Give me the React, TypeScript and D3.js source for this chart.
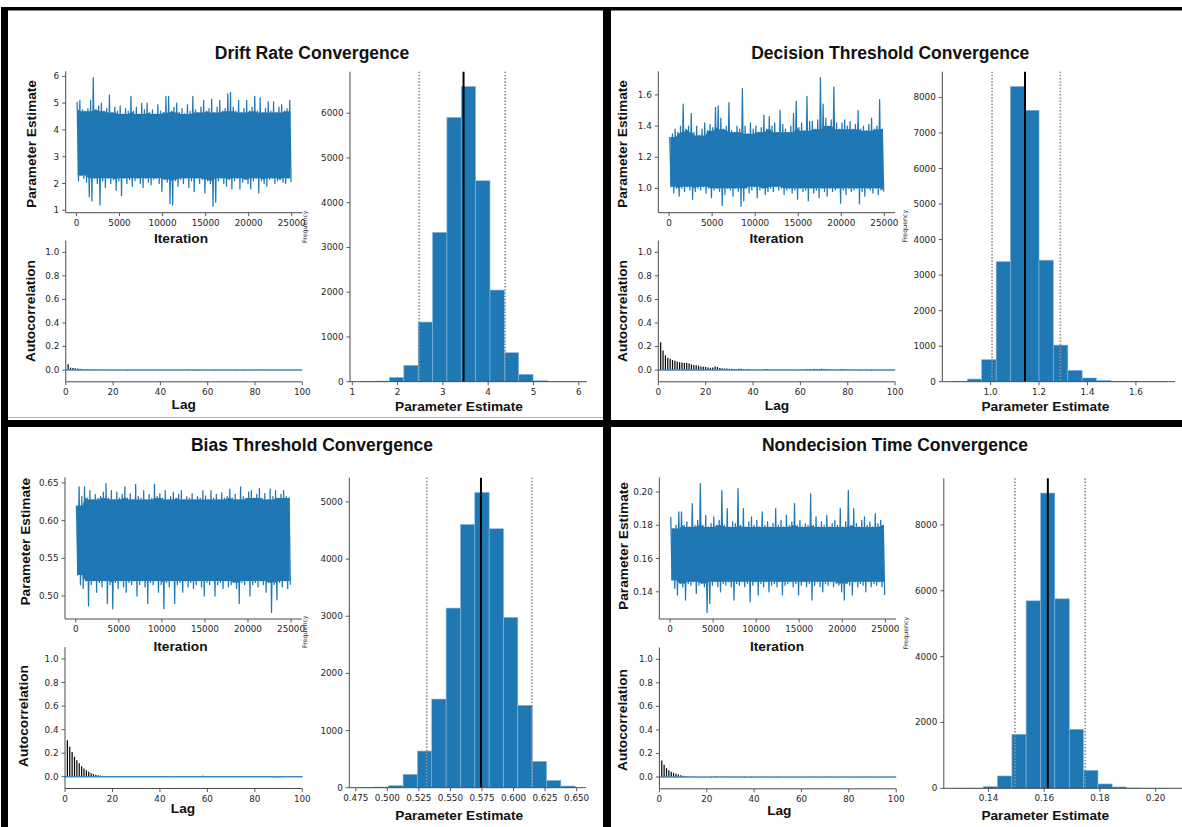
import React from "react";
import * as d3 from "d3";

// ---------- shared tick labels ----------
const iterationTicks = [0, 5000, 10000, 15000, 20000, 25000];
const lagTicks = [0, 20, 40, 60, 80, 100];
const acfTicks = [0, 0.2, 0.4, 0.6, 0.8, 1.0];
const totalIterations = 25000;
const maxLag = 100;

const titles = [
  "Drift Rate Convergence",
  "Decision Threshold Convergence",
  "Bias Threshold Convergence",
  "Nondecision Time Convergence",
];

// ---------- Drift rate ----------
const driftTraceHi = [
  5.05, 5.1, 4.75, 4.7, 4.8, 5.1, 5.95, 4.75, 4.9, 5.0,
  4.7, 4.8, 5.3, 4.65, 4.85, 4.7, 4.9, 4.6, 4.8, 4.7,
  5.25, 4.7, 4.85, 4.6, 5.0, 4.75, 5.0, 4.65, 4.75, 4.6,
  4.95, 4.7, 4.65, 5.25, 5.25, 4.7, 4.85, 5.0, 4.65, 4.8,
  4.6, 4.95, 4.7, 5.25, 4.75, 4.65, 4.85, 5.1, 4.7, 4.8,
  5.15, 4.65, 4.85, 5.1, 4.7, 4.8, 5.35, 5.4, 4.85, 4.7,
  5.1, 4.65, 4.8, 5.1, 4.7, 4.85, 5.25, 4.7, 5.2, 4.65,
  4.8, 5.05, 4.7, 5.05, 4.65, 4.85, 4.95, 4.7, 4.8, 5.1,
];
const driftTraceLo = [
  2.1, 2.3, 2.2, 2.05, 1.5, 1.35, 2.2, 2.0, 1.2, 2.1,
  1.85, 2.2, 2.0, 2.15, 1.75, 2.1, 1.55, 2.2, 2.0, 2.15,
  1.9, 2.1, 2.2, 2.0, 1.85, 2.2, 2.05, 1.95, 2.15, 2.2,
  2.0, 1.7, 2.15, 2.05, 1.25, 1.2, 2.1, 1.9, 2.15, 2.0,
  2.2, 1.85, 2.1, 1.7, 2.2, 2.0, 2.15, 1.65, 2.1, 2.0,
  1.15, 1.3, 2.1, 2.2, 2.0, 1.9, 2.15, 1.8, 2.1, 2.2,
  1.8, 2.05, 2.15, 2.0, 1.8, 2.1, 2.2, 1.65, 2.1, 2.0,
  1.9, 2.15, 2.2, 2.0, 2.1, 2.15, 2.05, 2.0, 2.2, 2.05,
];
const driftAcf = [
  0.048, 0.02, 0.018, 0.015, 0.012, 0.01, 0.008, 0.005, 0.004, 0.004,
  0.003, 0.004, 0.002, 0.003, 0.002, 0.001, 0.002, 0.001, 0.001, 0.002,
  0.001, -0.004, 0.001, 0.0, 0.001, -0.004, 0.001, 0.0, 0.001, 0.002,
  0.001, 0.0, 0.001, -0.001, 0.001, 0.0, 0.001, 0.0, -0.001, 0.001,
  0.0, 0.001, 0.003, 0.001, 0.0, -0.001, 0.001, 0.0, 0.001, 0.001,
  0.002, 0.005, 0.001, -0.004, -0.004, 0.001, 0.0, 0.001, 0.0, 0.001,
  0.0, 0.001, -0.003, 0.001, 0.0, 0.001, 0.0, -0.001, 0.001, 0.0,
  0.001, -0.003, 0.0, 0.001, -0.004, 0.001, 0.0, 0.001, 0.0, 0.001,
  0.0, 0.001, 0.005, 0.001, 0.0, -0.001, 0.001, 0.0, 0.001, 0.0,
  0.001, 0.0, -0.001, 0.001, -0.003, 0.001, 0.0, 0.001, 0.0, 0.001,
];
const driftBinEdges = [1.187, 1.504, 1.821, 2.138, 2.455, 2.772, 3.089, 3.406, 3.723, 4.04, 4.357, 4.674, 4.991, 5.308, 5.625, 5.942];
const driftCounts = [2, 15, 97, 365, 1333, 3336, 5905, 6597, 4490, 2048, 648, 164, 22, 3, 1];
const driftMean = 3.456;
const driftInterval = [2.478, 4.375];
const driftTraceTicks = [1, 2, 3, 4, 5, 6];
const driftHistXTicks = [1, 2, 3, 4, 5, 6];
const driftHistYTicks = [0, 1000, 2000, 3000, 4000, 5000, 6000];

// ---------- Decision threshold ----------
const decisionTraceHi = [
  1.33, 1.35, 1.38, 1.36, 1.4, 1.54, 1.38, 1.4, 1.48, 1.36,
  1.4, 1.34, 1.38, 1.42, 1.37, 1.41, 1.39, 1.52, 1.53, 1.45,
  1.38, 1.4, 1.55, 1.37, 1.36, 1.4, 1.38, 1.64, 1.4, 1.35,
  1.42, 1.38, 1.4, 1.36, 1.39, 1.47, 1.38, 1.46, 1.4, 1.42,
  1.36, 1.5, 1.41, 1.38, 1.36, 1.4, 1.48, 1.56, 1.39, 1.42,
  1.37, 1.59, 1.43, 1.43, 1.38, 1.44, 1.71, 1.54, 1.45, 1.4,
  1.44, 1.65, 1.42, 1.38, 1.42, 1.44, 1.4, 1.43, 1.38, 1.41,
  1.5, 1.38, 1.4, 1.37, 1.41, 1.45, 1.38, 1.4, 1.57, 1.38,
];
const decisionTraceLo = [
  1.01, 0.97, 1.0, 0.95, 1.0, 0.98, 1.01, 0.99, 0.93, 0.98,
  1.0, 0.99, 1.01, 0.97, 1.0, 0.94, 0.99, 1.0, 0.98, 0.89,
  0.96, 1.0, 0.99, 0.95, 1.0, 0.98, 0.885, 0.92, 1.0, 0.97,
  0.99, 1.01, 0.94, 0.99, 1.0, 0.96, 0.98, 1.0, 0.98, 1.01,
  0.99, 1.0, 0.96, 0.99, 1.0, 0.97, 0.99, 0.93, 1.0, 0.98,
  0.99, 0.92, 1.0, 0.97, 0.99, 0.94, 1.0, 0.98, 0.95, 1.0,
  0.98, 0.99, 1.0, 0.905, 0.99, 0.96, 1.0, 0.98, 0.99, 1.0,
  0.9, 0.98, 0.95, 1.0, 0.99, 0.97, 1.0, 0.96, 0.99, 0.98,
];
const decisionAcf = [
  0.235, 0.165, 0.125, 0.105, 0.095, 0.085, 0.078, 0.07, 0.065, 0.063,
  0.06, 0.06, 0.055, 0.048, 0.042, 0.04, 0.036, 0.03, 0.028, 0.025,
  0.022, 0.02, 0.022, 0.03, 0.025, 0.018, 0.015, 0.013, 0.012, 0.01,
  0.01, 0.008, 0.008, 0.01, 0.01, 0.005, 0.004, 0.006, 0.003, 0.002,
  0.002, 0.001, 0.002, 0.001, 0.008, 0.008, 0.003, 0.001, 0.002, 0.001,
  0.002, 0.001, 0.002, 0.003, 0.001, 0.002, 0.001, 0.002, 0.001, 0.003,
  0.002, 0.004, 0.007, 0.008, 0.007, 0.01, 0.009, 0.008, 0.01, 0.008,
  0.007, 0.006, 0.002, 0.001, 0.002, 0.002, 0.006, 0.006, 0.005, 0.004,
  0.003, 0.001, 0.001, 0.001, -0.004, 0.001, 0.001, 0.002, 0.001, -0.005,
  0.001, 0.001, 0.002, 0.001, 0.001, 0.002, 0.001, 0.001, 0.001, 0.001,
];
const decisionBinEdges = [0.845, 0.904, 0.963, 1.023, 1.082, 1.141, 1.2, 1.259, 1.319, 1.378, 1.437, 1.496, 1.555, 1.615, 1.674, 1.733];
const decisionCounts = [3, 75, 620, 3380, 8310, 7640, 3420, 1030, 320, 105, 35, 12, 4, 1, 1];
const decisionMean = 1.142;
const decisionInterval = [1.006, 1.288];
const decisionTraceTicks = [1.0, 1.2, 1.4, 1.6];
const decisionHistXTicks = [1.0, 1.2, 1.4, 1.6];
const decisionHistYTicks = [0, 1000, 2000, 3000, 4000, 5000, 6000, 7000, 8000];

// ---------- Bias threshold ----------
const biasTraceHi = [
  0.62, 0.645, 0.632, 0.645, 0.63, 0.64, 0.628, 0.635, 0.63, 0.632,
  0.638, 0.649, 0.63, 0.64, 0.628, 0.638, 0.63, 0.635, 0.645, 0.63,
  0.636, 0.628, 0.648, 0.632, 0.63, 0.64, 0.628, 0.635, 0.63, 0.648,
  0.632, 0.636, 0.63, 0.64, 0.628, 0.632, 0.638, 0.63, 0.635, 0.64,
  0.628, 0.632, 0.63, 0.636, 0.628, 0.632, 0.63, 0.64, 0.633, 0.628,
  0.64, 0.63, 0.635, 0.628, 0.637, 0.63, 0.632, 0.642, 0.63, 0.635,
  0.628, 0.645, 0.632, 0.63, 0.638, 0.64, 0.63, 0.635, 0.643, 0.63,
  0.636, 0.628, 0.642, 0.632, 0.64, 0.63, 0.635, 0.64, 0.632, 0.63,
];
const biasTraceLo = [
  0.528, 0.515, 0.51, 0.52, 0.487, 0.515, 0.52, 0.505, 0.518, 0.512,
  0.52, 0.49, 0.515, 0.483, 0.518, 0.51, 0.52, 0.512, 0.505, 0.518,
  0.515, 0.52, 0.5, 0.515, 0.52, 0.512, 0.49, 0.518, 0.515, 0.52,
  0.505, 0.515, 0.483, 0.518, 0.512, 0.52, 0.49, 0.515, 0.518, 0.505,
  0.52, 0.512, 0.518, 0.51, 0.515, 0.52, 0.512, 0.5, 0.518, 0.515,
  0.52, 0.5, 0.515, 0.518, 0.51, 0.52, 0.512, 0.515, 0.518, 0.51,
  0.49, 0.518, 0.515, 0.52, 0.5, 0.515, 0.518, 0.512, 0.52, 0.515,
  0.505, 0.518, 0.478, 0.515, 0.495, 0.518, 0.512, 0.52, 0.51, 0.515,
];
const biasAcf = [
  0.31, 0.255, 0.21, 0.17, 0.14, 0.115, 0.09, 0.07, 0.055, 0.042,
  0.03, 0.022, 0.016, 0.012, 0.009, 0.007, 0.006, 0.005, 0.004, 0.003,
  0.002, 0.002, 0.001, 0.002, 0.004, 0.005, 0.004, 0.005, 0.006, 0.005,
  0.004, 0.002, 0.001, 0.001, 0.0, -0.003, 0.001, 0.0, 0.001, 0.0,
  0.001, 0.0, 0.001, -0.004, 0.0, 0.001, 0.0, 0.001, 0.0, 0.001,
  0.0, 0.001, 0.0, 0.001, 0.0, 0.001, 0.002, 0.008, 0.001, 0.0,
  0.001, 0.0, 0.001, 0.0, 0.001, 0.0, 0.001, 0.0, 0.001, -0.002,
  0.0, 0.001, 0.0, 0.001, 0.0, 0.001, 0.0, 0.001, 0.0, 0.001,
  0.0, 0.001, 0.0, 0.001, 0.0, 0.001, -0.002, -0.006, -0.005, -0.006,
  -0.004, -0.003, 0.0, 0.001, 0.0, 0.001, 0.0, 0.001, 0.0, 0.001,
];
const biasBinEdges = [0.4784, 0.4898, 0.5011, 0.5125, 0.5239, 0.5352, 0.5466, 0.558, 0.5693, 0.5807, 0.5921, 0.6034, 0.6148, 0.6262, 0.6375, 0.6489];
const biasCounts = [2, 12, 35, 233, 641, 1551, 3143, 4606, 5166, 4531, 2980, 1440, 461, 128, 29];
const biasMean = 0.5742;
const biasInterval = [0.5312, 0.6145];
const biasTraceTicks = [0.5, 0.55, 0.6, 0.65];
const biasHistXTicks = [0.475, 0.5, 0.525, 0.55, 0.575, 0.6, 0.625, 0.65];
const biasHistYTicks = [0, 1000, 2000, 3000, 4000, 5000];

// ---------- Nondecision time ----------
const nondecisionTraceHi = [
  0.185, 0.178, 0.18, 0.188, 0.188, 0.18, 0.182, 0.179, 0.193, 0.18,
  0.183, 0.205, 0.18, 0.186, 0.179, 0.181, 0.185, 0.18, 0.183, 0.201,
  0.18, 0.19, 0.179, 0.182, 0.181, 0.202, 0.18, 0.19, 0.179, 0.182,
  0.185, 0.18, 0.183, 0.179, 0.188, 0.18, 0.182, 0.179, 0.181, 0.19,
  0.18, 0.183, 0.179, 0.186, 0.18, 0.182, 0.193, 0.18, 0.183, 0.179,
  0.181, 0.18, 0.199, 0.18, 0.185, 0.179, 0.182, 0.18, 0.186, 0.179,
  0.181, 0.183, 0.18, 0.19, 0.179, 0.182, 0.201, 0.18, 0.19, 0.181,
  0.179, 0.183, 0.185, 0.18, 0.182, 0.179, 0.187, 0.181, 0.183, 0.18,
];
const nondecisionTraceLo = [
  0.147, 0.142, 0.138, 0.145, 0.143, 0.135, 0.145, 0.144, 0.146, 0.139,
  0.144, 0.145, 0.143, 0.1275, 0.133, 0.144, 0.146, 0.143, 0.14, 0.145,
  0.144, 0.146, 0.143, 0.135, 0.145, 0.144, 0.146, 0.143, 0.145, 0.134,
  0.144, 0.146, 0.138, 0.145, 0.143, 0.146, 0.14, 0.144, 0.145, 0.143,
  0.146, 0.138, 0.144, 0.145, 0.146, 0.143, 0.145, 0.138, 0.144, 0.146,
  0.143, 0.145, 0.135, 0.144, 0.146, 0.143, 0.14, 0.145, 0.144, 0.146,
  0.143, 0.145, 0.144, 0.14, 0.135, 0.145, 0.144, 0.138, 0.146, 0.143,
  0.145, 0.144, 0.14, 0.146, 0.143, 0.145, 0.144, 0.146, 0.143, 0.138,
];
const nondecisionAcf = [
  0.14, 0.105, 0.075, 0.058, 0.045, 0.036, 0.028, 0.022, 0.015, 0.01,
  0.007, 0.005, 0.003, 0.002, 0.002, 0.001, 0.001, 0.0, 0.001, 0.0,
  0.001, -0.005, 0.001, 0.004, 0.001, 0.003, 0.0, 0.001, 0.003, 0.0,
  0.001, 0.0, 0.001, 0.0, 0.001, -0.006, 0.001, 0.0, -0.006, 0.001,
  0.0, 0.001, 0.0, 0.001, 0.0, 0.001, 0.0, 0.001, 0.0, -0.003,
  0.001, 0.0, 0.001, 0.0, 0.001, 0.0, 0.001, 0.0, 0.001, 0.0,
  0.001, 0.0, 0.001, 0.0, 0.001, 0.0, 0.001, 0.0, 0.001, 0.0,
  0.002, 0.0, 0.001, 0.0, 0.001, 0.0, 0.001, 0.0, 0.001, 0.0,
  0.001, 0.0, 0.001, 0.0, -0.003, 0.0, 0.001, 0.0, 0.001, 0.0,
  0.001, 0.0, 0.001, -0.003, 0.0, 0.001, 0.0, 0.001, 0.0, 0.001,
];
const nondecisionBinEdges = [0.1278, 0.1329, 0.1381, 0.1432, 0.1484, 0.1535, 0.1587, 0.1638, 0.169, 0.1741, 0.1793, 0.1844, 0.1896, 0.1947, 0.1999, 0.205];
const nondecisionCounts = [1, 3, 50, 375, 1641, 5694, 8967, 5755, 1793, 547, 132, 40, 8, 2, 1];
const nondecisionMean = 0.1613;
const nondecisionInterval = [0.1495, 0.1747];
const nondecisionTraceTicks = [0.14, 0.16, 0.18, 0.2];
const nondecisionHistXTicks = [0.14, 0.16, 0.18, 0.2];
const nondecisionHistYTicks = [0, 2000, 4000, 6000, 8000];

// ---------- styles / layout ----------
const BLUE = "#1f77b4";
const SPINE = "#4a4a4a";
const TICK = 3.5;
const tickStyle = { fontFamily: "'DejaVu Sans', Verdana, sans-serif", fontSize: 8.8, fill: "#262626" };
const labelStyle = { fontFamily: "'Liberation Sans', Arial, sans-serif", fontSize: 13.7, fontWeight: 700, fill: "#111" };
const titleStyle = { fontFamily: "'Liberation Sans', Arial, sans-serif", fontSize: 17.5, fontWeight: 700, fill: "#111" };

type Box = { left: number; right: number; top: number; bottom: number; spineEnd?: number };
type Pt = [number, number];
interface Layout {
  title: Pt;
  trace: Box; traceYLabel: Pt; traceXLabel: Pt;
  acf: Box; acfYLabel: Pt; acfXLabel: Pt;
  hist: Box; freqLabel: Pt; histXLabel: Pt;
}

const layouts: Layout[] = [
  {
    title: [312, 53.3],
    trace: { left: 65.7, right: 302.5, top: 71.3, bottom: 212.7 }, traceYLabel: [31.7, 144], traceXLabel: [181, 238.3],
    acf: { left: 65.8, right: 302.3, top: 240.5, bottom: 381.8 }, acfYLabel: [30.6, 311], acfXLabel: [183.7, 404],
    hist: { left: 350, right: 586.9, top: 71.7, bottom: 381.7 }, freqLabel: [305, 226.7], histXLabel: [459, 406],
  },
  {
    title: [890.3, 53.3],
    trace: { left: 658.3, right: 895.1, top: 71.3, bottom: 212.7 }, traceYLabel: [622.3, 144], traceXLabel: [776.5, 238.3],
    acf: { left: 658.3, right: 895.1, top: 240.5, bottom: 381.8 }, acfYLabel: [622.3, 311], acfXLabel: [777, 405],
    hist: { left: 942.3, right: 1178.9, top: 71.7, bottom: 381.7, spineEnd: 1175 }, freqLabel: [904.4, 226], histXLabel: [1045.4, 406.7],
  },
  {
    title: [312, 445],
    trace: { left: 65, right: 301.8, top: 477.3, bottom: 619 }, traceYLabel: [25, 541.7], traceXLabel: [180.5, 646.7],
    acf: { left: 65, right: 302.3, top: 647.2, bottom: 788.5 }, acfYLabel: [23, 716], acfXLabel: [183, 808.3],
    hist: { left: 349.3, right: 586, top: 477.7, bottom: 787.7 }, freqLabel: [304.5, 631.7], histXLabel: [459.2, 815],
  },
  {
    title: [895, 445],
    trace: { left: 659.3, right: 896.1, top: 477.3, bottom: 619 }, traceYLabel: [623.3, 546], traceXLabel: [777, 646.7],
    acf: { left: 659.4, right: 896.2, top: 647.5, bottom: 788.8 }, acfYLabel: [622.3, 720], acfXLabel: [779.3, 810],
    hist: { left: 943.8, right: 1180.3, top: 478.3, bottom: 788.3, spineEnd: 1182 }, freqLabel: [906, 633], histXLabel: [1045.3, 815],
  },
];

interface PanelData {
  title: string;
  hi: number[]; lo: number[]; traceTicks: number[]; traceFmt: (n: number) => string;
  acf: number[];
  edges: number[]; counts: number[]; mean: number; interval: number[];
  histXTicks: number[]; histXFmt: (n: number) => string; histYTicks: number[];
}

const panels: PanelData[] = [
  { title: titles[0], hi: driftTraceHi, lo: driftTraceLo, traceTicks: driftTraceTicks, traceFmt: d3.format("d"), acf: driftAcf,
    edges: driftBinEdges, counts: driftCounts, mean: driftMean, interval: driftInterval, histXTicks: driftHistXTicks, histXFmt: d3.format("d"), histYTicks: driftHistYTicks },
  { title: titles[1], hi: decisionTraceHi, lo: decisionTraceLo, traceTicks: decisionTraceTicks, traceFmt: d3.format(".1f"), acf: decisionAcf,
    edges: decisionBinEdges, counts: decisionCounts, mean: decisionMean, interval: decisionInterval, histXTicks: decisionHistXTicks, histXFmt: d3.format(".1f"), histYTicks: decisionHistYTicks },
  { title: titles[2], hi: biasTraceHi, lo: biasTraceLo, traceTicks: biasTraceTicks, traceFmt: d3.format(".2f"), acf: biasAcf,
    edges: biasBinEdges, counts: biasCounts, mean: biasMean, interval: biasInterval, histXTicks: biasHistXTicks, histXFmt: d3.format(".3f"), histYTicks: biasHistYTicks },
  { title: titles[3], hi: nondecisionTraceHi, lo: nondecisionTraceLo, traceTicks: nondecisionTraceTicks, traceFmt: d3.format(".2f"), acf: nondecisionAcf,
    edges: nondecisionBinEdges, counts: nondecisionCounts, mean: nondecisionMean, interval: nondecisionInterval, histXTicks: nondecisionHistXTicks, histXFmt: d3.format(".2f"), histYTicks: nondecisionHistYTicks },
];

// ---------- axis helpers ----------
function LeftAxis({ scale, ticks, fmt, box }: { scale: d3.ScaleLinear<number, number>; ticks: number[]; fmt: (n: number) => string; box: Box }) {
  return (
    <g>
      <line x1={box.left} x2={box.left} y1={box.top} y2={box.bottom} stroke={SPINE} strokeWidth={1} />
      {ticks.map((t) => (
        <g key={t}>
          <line x1={box.left - TICK} x2={box.left} y1={scale(t)} y2={scale(t)} stroke={SPINE} strokeWidth={0.9} />
          <text x={box.left - TICK - 3} y={scale(t)} dy="0.34em" textAnchor="end" style={tickStyle}>{fmt(t)}</text>
        </g>
      ))}
    </g>
  );
}

function BottomAxis({ scale, ticks, fmt, box }: { scale: d3.ScaleLinear<number, number>; ticks: number[]; fmt: (n: number) => string; box: Box }) {
  return (
    <g>
      <line x1={box.left} x2={box.spineEnd ?? box.right} y1={box.bottom} y2={box.bottom} stroke={SPINE} strokeWidth={1} />
      {ticks.map((t) => (
        <g key={t}>
          <line x1={scale(t)} x2={scale(t)} y1={box.bottom} y2={box.bottom + TICK} stroke={SPINE} strokeWidth={0.9} />
          <text x={scale(t)} y={box.bottom + TICK + 3} dy="0.76em" textAnchor="middle" style={tickStyle}>{fmt(t)}</text>
        </g>
      ))}
    </g>
  );
}

function VLabel({ p, text, style }: { p: Pt; text: string; style: React.CSSProperties }) {
  return (
    <text transform={`translate(${p[0]},${p[1]}) rotate(-90)`} textAnchor="middle" dy="0.35em" style={style}>{text}</text>
  );
}

function Panel({ d, L }: { d: PanelData; L: Layout }) {
  // trace plot
  const tExt = d3.extent([...d.hi, ...d.lo]) as [number, number];
  const tPad = (tExt[1] - tExt[0]) * 0.05;
  const tx = d3.scaleLinear().domain([-totalIterations * 0.05, totalIterations * 1.05]).range([L.trace.left, L.trace.right]);
  const ty = d3.scaleLinear().domain([tExt[0] - tPad, tExt[1] + tPad]).range([L.trace.bottom, L.trace.top]);
  const n = d.hi.length;
  const win = totalIterations / n;
  const pts: Pt[] = [];
  d.hi.forEach((h, i) => {
    pts.push([i * win + win * 0.25, h]);
    pts.push([i * win + win * 0.75, d.lo[i]]);
  });
  const traceLine = d3.line<Pt>().x((p) => tx(p[0])).y((p) => ty(p[1]))(pts) || "";
  // dense core of the chain: the band that all nearby windows cover
  const near = (arr: number[], i: number) => arr.slice(Math.max(0, i - 2), Math.min(n, i + 3));
  const core = d.hi.map((_, i) => ({
    x: i * win + win * 0.5,
    top: d3.min(near(d.hi, i)) as number,
    bot: d3.max(near(d.lo, i)) as number,
  }));
  const coreArea = d3.area<{ x: number; top: number; bot: number }>()
    .x((c) => tx(c.x)).y0((c) => ty(c.bot)).y1((c) => ty(c.top))(core) || "";

  // autocorrelation
  const ax = d3.scaleLinear().domain([0, maxLag]).range([L.acf.left, L.acf.right]);
  const ay = d3.scaleLinear().domain([-0.1, 1.1]).range([L.acf.bottom, L.acf.top]);

  // histogram
  const hLo = d.edges[0];
  const hHi = d.edges[d.edges.length - 1];
  const hPad = (hHi - hLo) * 0.05;
  const hx = d3.scaleLinear().domain([hLo - hPad, hHi + hPad]).range([L.hist.left, L.hist.right]);
  const hy = d3.scaleLinear().domain([0, (d3.max(d.counts) as number) * 1.05]).range([L.hist.bottom, L.hist.top]);

  return (
    <g>
      <text x={L.title[0]} y={L.title[1]} dy="0.35em" textAnchor="middle" style={titleStyle}>{d.title}</text>

      {/* trace */}
      <path d={coreArea} fill={BLUE} stroke="none" />
      <path d={traceLine} fill="none" stroke={BLUE} strokeWidth={1.25} strokeLinejoin="round" />
      <LeftAxis scale={ty} ticks={d.traceTicks} fmt={d.traceFmt} box={L.trace} />
      <BottomAxis scale={tx} ticks={iterationTicks} fmt={d3.format("d")} box={L.trace} />
      <VLabel p={L.traceYLabel} text="Parameter Estimate" style={labelStyle} />
      <text x={L.traceXLabel[0]} y={L.traceXLabel[1]} dy="0.35em" textAnchor="middle" style={labelStyle}>Iteration</text>

      {/* autocorrelation */}
      {d.acf.map((v, i) => (
        <line key={i} x1={ax(i + 1)} x2={ax(i + 1)} y1={ay(0)} y2={ay(v)} stroke="#000" strokeWidth={1.2} />
      ))}
      <line x1={ax(0)} x2={ax(maxLag)} y1={ay(0)} y2={ay(0)} stroke="#3d8bc6" strokeWidth={1.5} />
      <LeftAxis scale={ay} ticks={acfTicks} fmt={d3.format(".1f")} box={L.acf} />
      <BottomAxis scale={ax} ticks={lagTicks} fmt={d3.format("d")} box={L.acf} />
      <VLabel p={L.acfYLabel} text="Autocorrelation" style={labelStyle} />
      <text x={L.acfXLabel[0]} y={L.acfXLabel[1]} dy="0.35em" textAnchor="middle" style={labelStyle}>Lag</text>

      {/* histogram */}
      {d.counts.map((c, i) => (
        <rect key={i} x={hx(d.edges[i])} width={hx(d.edges[i + 1]) - hx(d.edges[i])} y={hy(c)} height={L.hist.bottom - hy(c)}
          fill={BLUE} stroke="#86b6dd" strokeWidth={0.6} />
      ))}
      {d.interval.map((v, i) => (
        <line key={i} x1={hx(v)} x2={hx(v)} y1={L.hist.top} y2={L.hist.bottom} stroke="#8f8f8f" strokeWidth={1.8} strokeDasharray="1.4,1.8" />
      ))}
      <line x1={hx(d.mean)} x2={hx(d.mean)} y1={L.hist.top} y2={L.hist.bottom} stroke="#000" strokeWidth={2} />
      <LeftAxis scale={hy} ticks={d.histYTicks} fmt={d3.format("d")} box={L.hist} />
      <BottomAxis scale={hx} ticks={d.histXTicks} fmt={d.histXFmt} box={L.hist} />
      <VLabel p={L.freqLabel} text="Frequency" style={{ fontFamily: "'DejaVu Sans', sans-serif", fontSize: 6.3, fill: "#333" }} />
      <text x={L.histXLabel[0]} y={L.histXLabel[1]} dy="0.35em" textAnchor="middle" style={labelStyle}>Parameter Estimate</text>
    </g>
  );
}

export default function App() {
  return (
    <>
      <style>{"body{margin:0;background:#fff}"}</style>
      <svg width={1182} height={827} style={{ display: "block" }}>
        <rect x={0} y={0} width={1182} height={827} fill="#fff" />
        {panels.map((d, i) => (
          <Panel key={i} d={d} L={layouts[i]} />
        ))}
        {/* frame lines */}
        <rect x={1} y={7} width={1181} height={3.5} fill="#000" />
        <rect x={1} y={7} width={7} height={820} fill="#000" />
        <rect x={603} y={7} width={8} height={820} fill="#000" />
        <rect x={1} y={420} width={1181} height={7} fill="#000" />
        <line x1={8} x2={603} y1={417.5} y2={417.5} stroke="#b0b0b0" strokeWidth={1} />
      </svg>
    </>
  );
}
